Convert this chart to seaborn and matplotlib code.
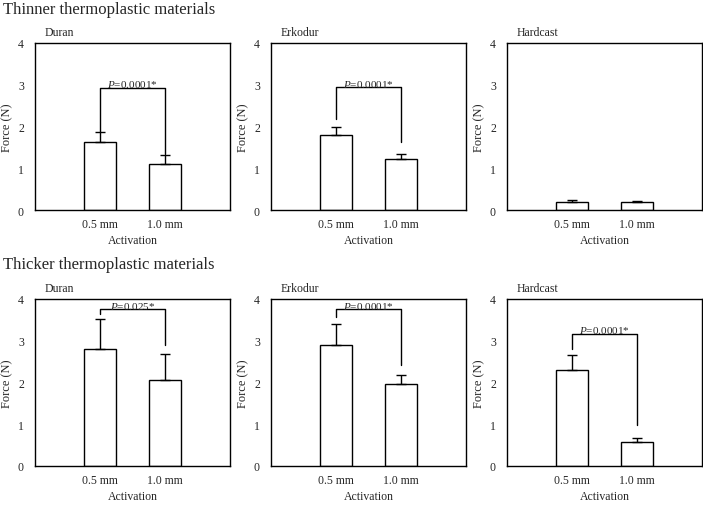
import numpy as np
import matplotlib
matplotlib.use("Agg")
import matplotlib.pyplot as plt
import seaborn as sns

materials = ["Duran", "Erkodur", "Hardcast"]
activation = ["0.5 mm", "1.0 mm"]

# thinner sheets: mean force and upper error per material (0.5 mm, 1.0 mm)
thin_mean = [[1.64, 1.11], [1.80, 1.23], [0.19, 0.20]]
thin_err = [[0.24, 0.20], [0.20, 0.12], [0.04, 0.02]]
# thicker sheets
thick_mean = [[2.80, 2.06], [2.91, 1.97], [2.31, 0.58]]
thick_err = [[0.71, 0.63], [0.48, 0.20], [0.34, 0.10]]

# significance brackets: text, bracket height, left leg end, right leg end
thin_p = ["0.0001*", "0.0001*", None]
thin_bracket = [[2.92, 1.86, 1.34], [2.94, 2.18, 1.62], None]
thick_p = ["0.025*", "0.0001*", "0.0001*"]
thick_bracket = [[3.75, 3.64, 2.89], [3.75, 3.57, 2.43], [3.17, 2.80, 0.98]]

sns.set_style("white")
plt.rcParams["font.family"] = ["Liberation Serif", "DejaVu Serif"]
plt.rcParams["mathtext.fontset"] = "custom"
plt.rcParams["mathtext.rm"] = "Liberation Serif"
plt.rcParams["mathtext.it"] = "Liberation Serif:italic"

fig = plt.figure(figsize=(7.03, 5.06), dpi=100)
W, H = 703, 506
lefts = [35, 271, 507]
tops = [44, 300]
aw, ah = 195, 167


def panel(ax, name, mean, err, ptxt, br):
    sns.barplot(x=activation, y=mean, ax=ax, color="white", edgecolor="black",
                linewidth=1, width=0.5, errorbar=None, saturation=1)
    xs = np.arange(len(activation))
    ax.errorbar(xs, mean, yerr=[np.zeros(len(err)), err], fmt="none",
                ecolor="black", elinewidth=1, capsize=3.5, capthick=1)
    ax.set_xlim(-1, 2)
    ax.set_ylim(0, 4)
    ax.set_yticks([0, 1, 2, 3, 4])
    ax.tick_params(axis="x", length=0, labelsize=8.5, pad=6)
    ax.tick_params(axis="y", length=0, labelsize=8.5, pad=8)
    ax.set_ylabel("Force (N)", fontsize=9, labelpad=3)
    ax.set_xlabel("Activation", fontsize=8.5, labelpad=3)
    for s in ax.spines.values():
        s.set_visible(True)
        s.set_color("black")
        s.set_linewidth(1)
    ax.text(0.05, 1.065, name, transform=ax.transAxes, fontsize=8.5,
            ha="left", va="center")
    if ptxt is not None:
        yb, yl, yr = br
        ax.plot([xs[0], xs[0], xs[1], xs[1]], [yl, yb, yb, yr],
                color="black", lw=1)
        ax.text(xs.mean(), yb - 0.03, r"$\mathit{P}$=" + ptxt, ha="center",
                va="bottom", fontsize=8)


for r, (means, errs, ps, brs) in enumerate([
        (thin_mean, thin_err, thin_p, thin_bracket),
        (thick_mean, thick_err, thick_p, thick_bracket)]):
    for c in range(3):
        ax = fig.add_axes([lefts[c] / W, 1 - (tops[r] + ah) / H, aw / W, ah / H])
        panel(ax, materials[c], means[c], errs[c], ps[c], brs[c])

fig.text(3 / W, 1 - 10 / H, "Thinner thermoplastic materials", fontsize=12,
         ha="left", va="center")
fig.text(3 / W, 1 - 265 / H, "Thicker thermoplastic materials", fontsize=12,
         ha="left", va="center")

fig.savefig("out.png", dpi=100)
